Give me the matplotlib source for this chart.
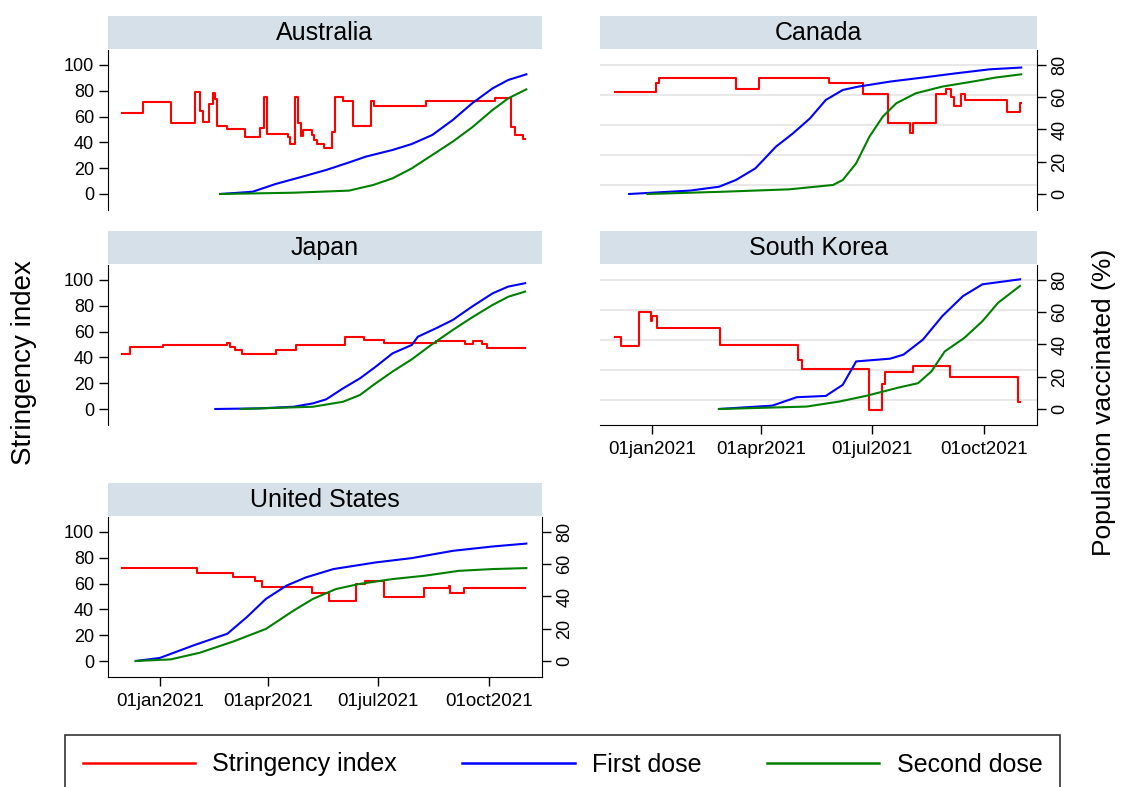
import matplotlib.pyplot as plt
import pandas as pd
from matplotlib.lines import Line2D
from matplotlib.ticker import FixedLocator, FuncFormatter

plt.rcParams['font.family'] = ['Liberation Sans', 'DejaVu Sans']

# ---------------- data ----------------
# Australia
au_str_dates = ['2020-12-01', '2020-12-18', '2021-01-10', '2021-01-30', '2021-02-03', '2021-02-06',
                '2021-02-11', '2021-02-14', '2021-02-16', '2021-02-17', '2021-02-26', '2021-03-13',
                '2021-03-25', '2021-03-28', '2021-03-31', '2021-04-17', '2021-04-19', '2021-04-23',
                '2021-04-26', '2021-04-28', '2021-04-30', '2021-05-07', '2021-05-09', '2021-05-11',
                '2021-05-17', '2021-05-24', '2021-05-26', '2021-06-02', '2021-06-10', '2021-06-25',
                '2021-06-28', '2021-08-10', '2021-10-06', '2021-10-19', '2021-10-23', '2021-10-29',
                '2021-10-31']
au_str = [63, 71, 55, 79, 64, 56, 70, 78.5, 74, 53, 50, 44.5, 51, 75.5, 46.5, 44, 39, 75.5,
          55, 45, 49.5, 46, 42, 39, 36, 48, 75.5, 72.4, 53, 72, 68, 72, 74.7, 51.7, 45.7, 43, 43]
au_first_dates = ['2021-02-20', '2021-03-19', '2021-04-07', '2021-04-29', '2021-05-19', '2021-06-07',
                  '2021-06-21', '2021-07-13', '2021-07-29', '2021-08-15', '2021-09-01', '2021-09-17',
                  '2021-10-04', '2021-10-17', '2021-11-01']
au_first = [0, 1.4, 6.2, 10.7, 14.9, 19.6, 23.2, 27.3, 31.0, 36.6, 45.9, 56.2, 65.5, 70.7, 74.2]
au_second_dates = ['2021-02-20', '2021-04-22', '2021-06-07', '2021-06-27', '2021-07-13', '2021-07-29',
                   '2021-08-15', '2021-09-01', '2021-09-17', '2021-10-04', '2021-10-17', '2021-11-01']
au_second = [0, 0.8, 2.1, 5.6, 9.7, 15.9, 24.2, 32.5, 41.3, 52.1, 59.3, 64.9]

# Canada
ca_str_dates = ['2020-12-01', '2021-01-04', '2021-01-07', '2021-03-11', '2021-03-30', '2021-05-27',
                '2021-06-24', '2021-07-14', '2021-08-01', '2021-08-04', '2021-08-23', '2021-08-31',
                '2021-09-04', '2021-09-07', '2021-09-12', '2021-09-16', '2021-10-20', '2021-10-31',
                '2021-11-01']
ca_str = [70.9, 73.9, 75.8, 71.9, 75.8, 73.9, 70.3, 60.8, 57.2, 60.8, 70.3, 71.9,
          69.4, 66.3, 70.3, 68.3, 64.4, 67.4, 67.4]
ca_first_dates = ['2020-12-13', '2021-02-01', '2021-02-25', '2021-03-11', '2021-03-27', '2021-04-13',
                  '2021-04-27', '2021-05-11', '2021-05-24', '2021-06-07', '2021-06-20', '2021-07-16',
                  '2021-08-12', '2021-09-08', '2021-10-06', '2021-11-01']
ca_first = [0, 2.1, 4.5, 8.7, 15.9, 29.4, 37.6, 46.9, 58.3, 64.5, 66.6, 69.7, 72.2, 74.8, 77.3, 78.4]
ca_second_dates = ['2020-12-28', '2021-02-28', '2021-04-24', '2021-05-30', '2021-06-07', '2021-06-18',
                   '2021-06-29', '2021-07-10', '2021-07-21', '2021-08-06', '2021-08-28', '2021-09-22',
                   '2021-10-11', '2021-11-01']
ca_second = [0, 1.4, 2.9, 5.6, 8.7, 19.0, 35.6, 48.0, 56.2, 62.4, 66.6, 69.7, 72.2, 74.2]

# Japan
jp_str_dates = ['2020-12-01', '2020-12-07', '2021-01-04', '2021-02-26', '2021-02-28', '2021-03-04',
                '2021-03-10', '2021-04-07', '2021-04-24', '2021-06-04', '2021-06-19', '2021-07-06',
                '2021-08-18', '2021-09-11', '2021-09-18', '2021-09-25', '2021-09-29', '2021-10-31']
jp_str = [42.4, 48.3, 49.6, 51.4, 48.3, 46, 42.6, 46, 49.6, 55.6, 53.5, 50.9,
          52.5, 50.2, 52.5, 50.5, 47, 47]
jp_first_dates = ['2021-02-16', '2021-03-25', '2021-04-22', '2021-05-08', '2021-05-19', '2021-06-02',
                  '2021-06-16', '2021-06-29', '2021-07-13', '2021-07-29', '2021-08-03', '2021-08-18',
                  '2021-09-01', '2021-09-17', '2021-10-04', '2021-10-17', '2021-10-31']
jp_first = [0, 0.4, 1.4, 3.5, 6.0, 12.8, 19.0, 26.2, 34.5, 39.7, 44.8, 50.0, 55.2, 63.5, 71.7, 75.9, 78.0]
jp_second_dates = ['2021-03-09', '2021-05-08', '2021-06-02', '2021-06-16', '2021-06-29', '2021-07-13',
                   '2021-07-29', '2021-08-14', '2021-09-01', '2021-09-17', '2021-10-04', '2021-10-17',
                   '2021-10-31']
jp_second = [0, 1.4, 4.5, 8.7, 15.9, 23.2, 30.8, 39.7, 49.0, 56.8, 64.5, 69.6, 72.8]

# South Korea
kr_str_dates = ['2020-12-01', '2020-12-06', '2020-12-21', '2020-12-31', '2021-01-01', '2021-01-05',
                '2021-02-26', '2021-05-01', '2021-05-04', '2021-06-29', '2021-07-09', '2021-07-12',
                '2021-08-04', '2021-09-03', '2021-10-29', '2021-10-31']
kr_str = [60.9, 58.0, 69.2, 66.5, 68.0, 63.9, 58.5, 53.3, 50.4, 36.7, 45.4, 49.3,
          51.2, 47.6, 39.2, 39.2]
kr_first_dates = ['2021-02-25', '2021-04-10', '2021-04-30', '2021-05-24', '2021-06-07', '2021-06-18',
                  '2021-07-16', '2021-07-27', '2021-08-12', '2021-08-28', '2021-09-14', '2021-09-30',
                  '2021-10-31']
kr_first = [0, 2.1, 7.3, 8.1, 15.0, 29.5, 31.2, 33.7, 43.0, 57.6, 70.0, 77.3, 80.4]
kr_second_dates = ['2021-02-25', '2021-05-08', '2021-06-04', '2021-06-26', '2021-07-23', '2021-08-08',
                   '2021-08-19', '2021-08-30', '2021-09-15', '2021-09-30', '2021-10-13', '2021-10-31']
kr_second = [0, 1.5, 4.6, 8.1, 13.3, 16.0, 23.3, 35.7, 44.0, 54.4, 65.9, 76.3]

# United States
us_str_dates = ['2020-12-01', '2021-02-01', '2021-03-03', '2021-03-21', '2021-03-27', '2021-05-07',
                '2021-05-21', '2021-06-13', '2021-06-20', '2021-07-06', '2021-08-08', '2021-08-29',
                '2021-08-30', '2021-09-10', '2021-10-31']
us_str = [72.2, 68.4, 64.8, 62.2, 57.3, 52.7, 46.8, 59.6, 62.2, 49.6, 56.6, 58.4, 52.7, 56.6, 56.6]
us_first_dates = ['2020-12-12', '2021-01-01', '2021-01-29', '2021-02-26', '2021-03-14', '2021-03-30',
                  '2021-04-16', '2021-05-02', '2021-05-25', '2021-06-29', '2021-07-29', '2021-09-01',
                  '2021-10-04', '2021-11-01']
us_first = [0, 1.9, 9.7, 16.9, 27.1, 38.5, 46.7, 51.8, 57.0, 61.1, 63.8, 68.3, 71.0, 72.8]
us_second_dates = ['2020-12-12', '2021-01-10', '2021-02-03', '2021-03-03', '2021-03-30', '2021-04-22',
                   '2021-05-08', '2021-05-27', '2021-06-15', '2021-07-13', '2021-08-09', '2021-09-06',
                   '2021-10-04', '2021-11-01']
us_second = [0, 1.0, 5.1, 12.1, 19.9, 31.3, 38.5, 44.6, 47.7, 50.8, 52.9, 55.9, 57.0, 57.6]

date_ticks = ['2021-01-01', '2021-04-01', '2021-07-01', '2021-10-01']
str_ticks = [0, 20, 40, 60, 80, 100]
vac_ticks = [0, 20, 40, 60, 80]

# ---------------- layout ----------------
W, H = 1122, 787
fig = plt.figure(figsize=(W / 100, H / 100), dpi=100)
fig.patch.set_facecolor('white')

RED, BLUE, GREEN = '#ff0000', '#0000ff', '#008000'
STRIP = '#d6e0e8'
GRID = '#e6e6e6'


def box(x0, y0, x1, y1):
    # pixel box (top-left origin) -> figure fraction
    return [x0 / W, 1 - y1 / H, (x1 - x0) / W, (y1 - y0) / H]


def panel(name, x0, x1, y0, y1, sd, sv, fd, fv, vd, vv, left=True, right=False, bottom=False):
    # grey-blue title strip
    st = fig.add_axes(box(x0, y0 - 34, x1, y0 - 1))
    st.set_facecolor(STRIP)
    st.set_xticks([])
    st.set_yticks([])
    for s in st.spines.values():
        s.set_visible(False)
    st.text(0.5, 0.48, name, ha='center', va='center', fontsize=18, transform=st.transAxes)

    ax = fig.add_axes(box(x0, y0, x1, y1))
    ax.plot(pd.to_datetime(sd), sv, color=RED, lw=1.5, drawstyle='steps-post', zorder=3)
    ax.set_xlim(pd.Timestamp('2020-11-19'), pd.Timestamp('2021-11-14'))
    for s in ['top', 'right']:
        ax.spines[s].set_visible(False)
    ax.spines['left'].set_visible(left)
    ax.spines['bottom'].set_visible(bottom)

    if left:
        ax.set_ylim(-12.4, 111.6)
        ax.set_yticks(str_ticks)
        ax.yaxis.set_minor_locator(FixedLocator([20, 40, 60, 80]))
    else:
        # hidden stringency axis, own scale
        ax.set_ylim(31.67, 85)
        ax.set_yticks([])
        ax.yaxis.set_minor_locator(FixedLocator([40, 50, 60, 70, 80]))
    ax.grid(which='minor', axis='y', color=GRID, lw=1.3)
    ax.tick_params(axis='y', which='minor', length=0)
    ax.tick_params(axis='y', which='major', direction='out', length=6.5, width=1, labelsize=13)

    ax.set_xticks(pd.to_datetime(date_ticks))
    ax.xaxis.set_major_formatter(FuncFormatter(
        lambda v, p: pd.Timestamp(plt.matplotlib.dates.num2date(v)).strftime('%d%b%Y').lower()))
    if bottom:
        ax.tick_params(axis='x', direction='out', length=6.5, width=1, labelsize=13.5, pad=5)
    else:
        ax.tick_params(axis='x', length=0, labelbottom=False)

    tw = ax.twinx()
    tw.plot(pd.to_datetime(fd), fv, color=BLUE, lw=1.5)
    tw.plot(pd.to_datetime(vd), vv, color=GREEN, lw=1.5)
    tw.set_ylim(-9.92, 89.28)
    for s in ['top', 'left', 'bottom']:
        tw.spines[s].set_visible(False)
    tw.spines['right'].set_visible(right)
    if right:
        tw.set_yticks(vac_ticks)
        tw.tick_params(axis='y', direction='out', length=6.5, width=1, labelsize=13,
                       labelrotation=90, pad=4)
        for lbl in tw.get_yticklabels():
            lbl.set_va('center')
    else:
        tw.set_yticks([])
    return ax


panel('Australia', 108, 542, 50, 210, au_str_dates, au_str, au_first_dates, au_first,
      au_second_dates, au_second, left=True)
panel('Canada', 600, 1037, 50, 210, ca_str_dates, ca_str, ca_first_dates, ca_first,
      ca_second_dates, ca_second, left=False, right=True)
panel('Japan', 108, 542, 265, 425, jp_str_dates, jp_str, jp_first_dates, jp_first,
      jp_second_dates, jp_second, left=True)
panel('South Korea', 600, 1037, 265, 425, kr_str_dates, kr_str, kr_first_dates, kr_first,
      kr_second_dates, kr_second, left=False, right=True, bottom=True)
panel('United States', 108, 542, 517, 677, us_str_dates, us_str, us_first_dates, us_first,
      us_second_dates, us_second, left=True, right=True, bottom=True)

fig.text(24 / W, 1 - 363 / H, 'Stringency index', rotation=90, fontsize=20,
         ha='center', va='center')
fig.text(1104 / W, 1 - 402 / H, 'Population vaccinated (%)', rotation=90, fontsize=19,
         ha='center', va='center')

handles = [Line2D([], [], color=RED, lw=1.8), Line2D([], [], color=BLUE, lw=1.8),
           Line2D([], [], color=GREEN, lw=1.8)]
leg = fig.legend(handles, ['Stringency index', 'First dose', 'Second dose'],
                 loc='upper left', bbox_to_anchor=(65 / W, 1 - 735 / H), ncol=3,
                 frameon=True, fancybox=False, edgecolor='black', fontsize=18,
                 handlelength=4.5, handletextpad=0.7, columnspacing=2.6,
                 borderpad=0.7, borderaxespad=0)
leg.get_frame().set_linewidth(1.2)

fig.savefig('out.png', dpi=100)
